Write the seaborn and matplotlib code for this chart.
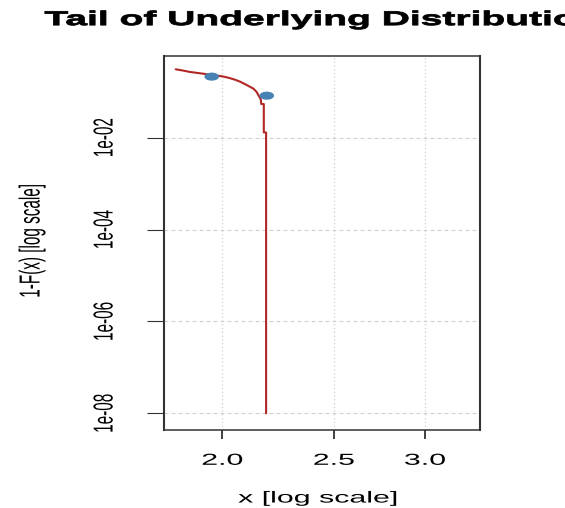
import numpy as np
import pandas as pd
import seaborn as sns
import matplotlib.pyplot as plt
from matplotlib.patheffects import AbstractPathEffect
from matplotlib.transforms import Affine2D
from matplotlib.ticker import NullLocator
from matplotlib.path import Path

tail_x = [1.822, 1.850, 1.875, 1.913, 1.958, 1.998, 2.024, 2.051, 2.072, 2.100,
          2.128, 2.142, 2.151, 2.160, 2.162, 2.173, 2.173, 2.183, 2.183]
tail_y = [0.308, 0.288, 0.269, 0.252, 0.232, 0.217, 0.202, 0.183, 0.166, 0.140,
          0.117, 0.099, 0.082, 0.068, 0.054, 0.054, 0.0130, 0.0130, 1e-8]

# the two blue points
point_x = [1.958, 2.186]
point_y = [0.213, 0.082]

x_ticks = [2.0, 2.5, 3.0]
x_tick_labels = ['2.0', '2.5', '3.0']
y_ticks = [1e-2, 1e-4, 1e-6, 1e-8]
y_tick_labels = ['1e-02', '1e-04', '1e-06', '1e-08']


class Widen(AbstractPathEffect):
    # the reference is a sideways-stretched R plot, so text is widened around its centre
    def __init__(self, sx, stroke=0.0):
        super().__init__()
        self.sx = sx
        self.stroke = stroke

    def draw_path(self, renderer, gc, tpath, affine, rgbFace=None):
        ext = tpath.get_extents(affine)
        cx = 0.5 * (ext.x0 + ext.x1)
        affine = affine + Affine2D().translate(-cx, 0).scale(self.sx, 1).translate(cx, 0)
        gc0 = renderer.new_gc()
        gc0.copy_properties(gc)
        if self.stroke and rgbFace is not None:
            gc0.set_linewidth(self.stroke)
            gc0.set_foreground(rgbFace)
        renderer.draw_path(gc0, tpath, affine, rgbFace)
        gc0.restore()


sns.set_style('white')
plt.rcParams['font.family'] = ['Liberation Sans', 'DejaVu Sans']

fig, ax = plt.subplots(figsize=(5.65, 5.08), dpi=100)
fig.subplots_adjust(left=0.2894, right=0.8496, bottom=0.1535, top=0.8904)

df_tail = pd.DataFrame({'x': tail_x, 'y': tail_y})
df_pts = pd.DataFrame({'x': point_x, 'y': point_y})

ax.set_xscale('log')
ax.set_yscale('log')

sns.lineplot(data=df_tail, x='x', y='y', ax=ax, estimator=None, sort=False,
             color='#B22626', linewidth=1.5, zorder=3)

# points are drawn as wide ellipses, like in the stretched picture
circ = Path.unit_circle()
ellipse = Path(circ.vertices * np.array([1.8, 1.0]), circ.codes)
sns.scatterplot(data=df_pts, x='x', y='y', ax=ax, marker=ellipse, s=110,
                color='#4682B4', edgecolor='none', linewidth=0, zorder=4)

ax.set_xlim(1.778, 3.349)
ax.set_ylim(4.33e-9, 0.609)

ax.set_xticks(x_ticks, x_tick_labels)
ax.xaxis.set_minor_locator(NullLocator())
ax.set_yticks(y_ticks, y_tick_labels)
ax.yaxis.set_minor_locator(NullLocator())

# grid: dotted verticals, dashed horizontals
ax.grid(axis='x', color='#d0d0d0', linewidth=0.9, linestyle=(0, (1, 2)))
ax.grid(axis='y', color='#d0d0d0', linewidth=0.8, linestyle=(0, (3.6, 2.7)))
ax.set_axisbelow(True)

ax.tick_params(axis='x', direction='out', length=6.5, width=1.3, color='#333333',
               pad=9.9, labelsize=11.5, labelcolor='black', bottom=True)
ax.tick_params(axis='y', direction='out', length=12.2, width=0.8, color='#333333',
               pad=30.4, labelsize=11, labelcolor='black', labelrotation=90, left=True)
for lab in ax.get_yticklabels():
    lab.set_ha('center')
    lab.set_va('center')

for side, sp in ax.spines.items():
    sp.set_color('#333333')
    sp.set_linewidth(1.5 if side in ('left', 'right') else 1.1)

ax.set_xlabel('x [log scale]', fontsize=11.5, color='black')
ax.xaxis.label.set_va('center')
ax.xaxis.set_label_coords(0.488, -0.1817)
ax.set_ylabel('1-F(x) [log scale]', fontsize=11, color='black')
ax.yaxis.label.set_va('center')
ax.yaxis.set_label_coords(-0.4155, 0.505)

ax.set_title('Tail of Underlying Distribution', fontsize=14.4, fontweight='bold',
             color='black', pad=22)

ax.title.set_path_effects([Widen(1.95, stroke=0.6)])
ax.xaxis.label.set_path_effects([Widen(1.9)])
ax.yaxis.label.set_path_effects([Widen(1.9)])
for lab in ax.get_xticklabels():
    lab.set_path_effects([Widen(1.9)])
for lab in ax.get_yticklabels():
    lab.set_path_effects([Widen(1.8)])

fig.savefig('out.png', dpi=100)
